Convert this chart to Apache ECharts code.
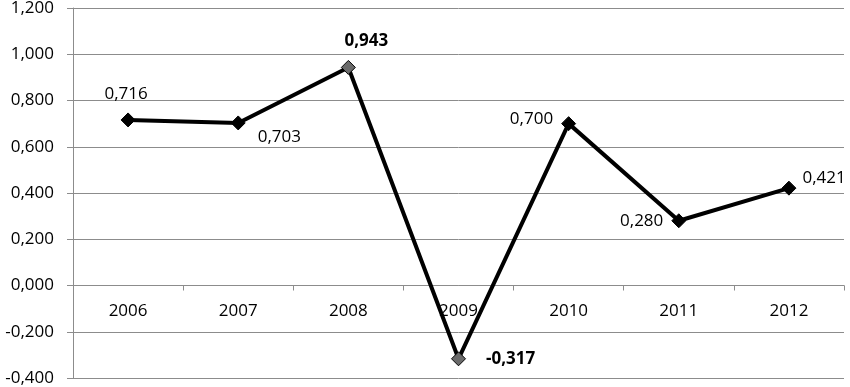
<!DOCTYPE html>
<html><head><meta charset="utf-8">
<script src="https://cdn.jsdelivr.net/npm/echarts@6/dist/echarts.min.js"></script>
<style>html,body{margin:0;padding:0;background:#fff}#c{width:850px;height:387px}</style>
</head><body><div id="c"></div>
<script>
const categories = ['2006','2007','2008','2009','2010','2011','2012'];
const values = [0.716, 0.703, 0.943, -0.317, 0.700, 0.280, 0.421];
const labelPos = ['top','right','top','right','left','left','right'];
const labelOffset = [[-2,-2],[4,14],[18,-2],[12,0],[0,-4],[0,0],[-2,-10]];
const boldIdx = [2,3];
const grayIdx = [2,3];
const fmt = v => v.toFixed(3).replace('.', ',');
const font = '"Open Sans", "Liberation Sans", sans-serif';
const chart = echarts.init(document.getElementById('c'));
const axisColor = '#8c8c8c';
chart.setOption({
  animation:false,
  grid:{left:73,right:6,top:8,bottom:9,containLabel:false,outerBoundsMode:'none'},
  xAxis:{type:'category',data:categories,boundaryGap:true,position:'bottom',offset:0,
    axisLine:{onZero:false,lineStyle:{color:axisColor,width:1}},
    axisTick:{show:true,length:5,inside:false,lineStyle:{color:axisColor}},
    axisLabel:{margin:17,fontSize:17,color:'#000',fontFamily:font},
    splitLine:{show:false}},
  yAxis:{type:'value',min:-0.4,max:1.2,interval:0.2,
    axisLine:{show:true,lineStyle:{color:axisColor}},
    axisTick:{show:true,length:6,lineStyle:{color:axisColor}},
    axisLabel:{formatter:fmt,fontSize:17,color:'#000',fontFamily:font,margin:19},
    splitLine:{lineStyle:{color:axisColor,width:1}}},
  series:[{type:'line',
    data:values.map((v,i)=>({value:v,
      itemStyle:{color:grayIdx.includes(i)?'#6a6a6a':'#000',borderColor:'#000',borderWidth:1},
      label:{show:true,position:labelPos[i],offset:labelOffset[i],
        fontWeight:boldIdx.includes(i)?'bold':'normal',formatter:p=>fmt(p.value)}})),
    symbol:'diamond',symbolSize:14,
    lineStyle:{color:'#000',width:4},
    label:{fontSize:17,color:'#000',fontFamily:font,distance:8}
  }]
});
// move the category axis (line, ticks, labels) up to the zero line
const yZero = chart.convertToPixel({yAxisIndex:0}, 0);
const yMin = chart.convertToPixel({yAxisIndex:0}, -0.4);
chart.setOption({xAxis:{offset:-(yMin - yZero)}});
</script></body></html>
